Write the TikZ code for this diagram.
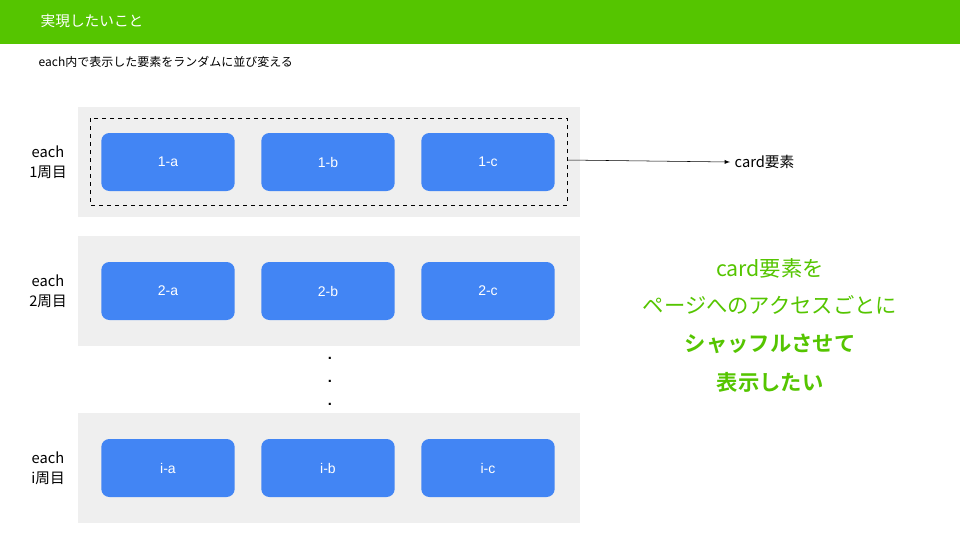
\documentclass[tikz,border=0pt]{standalone}
\usepackage{fontspec}
\setmainfont{Liberation Sans}
\newfontfamily\jp{Noto Sans CJK JP}[BoldFont={* Bold}]
\usetikzlibrary{positioning}
\definecolor{qgreen}{HTML}{55C500}
\definecolor{cardblue}{HTML}{4285F4}
\definecolor{panelgray}{HTML}{EFEFEF}
\tikzset{
  panel/.style={fill=panelgray,draw=none},
  card/.style={fill=cardblue,rounded corners=6pt,minimum width=100pt,minimum height=43.5pt,
    text=white,font=\fontsize{10.5}{12}\selectfont,inner sep=0pt},
  rowlabel/.style={align=center,font=\jp\fontsize{11}{15}\selectfont},
  pitch/.style={text=qgreen,font=\jp\fontsize{16}{20}\selectfont}
}
\begin{document}
\begin{tikzpicture}[x=0.75pt,y=-0.75pt]
	\useasboundingbox (0,0) rectangle (960,540);
	\fill[white] (0,0) rectangle (960,540);
	\fill[qgreen] (0,0) rectangle (960,44);% title bar
	\node[anchor=west,text=white,font=\jp\fontsize{11}{13}\selectfont] (title) at (36,21) {実現したいこと};
	\node[anchor=west,font=\jp\fontsize{9}{11}\selectfont] (sub) at (34,62) {each内で表示した要素をランダムに並び変える};

	\foreach \Row/\Y/\Lab in {1/162/1, 2/291/2, 3/468/i}{
		\fill[panel] (78,\Y-55) rectangle (580,\Y+55);
		\node[rowlabel] (lab\Row) at (48,\Y) {each\\\Lab 周目};
		\foreach \Col/\X/\C in {1/168/a, 2/328/b, 3/488/c}{
			\node[card] (card\Row\Col) at (\X,\Y) {\Lab-\C};
		}
	}
	\draw[dashed,thin] (90,118) rectangle (567,205);
	\coordinate (dashend) at (567,160);
	\node[anchor=west,font=\jp\fontsize{11}{13}\selectfont] (cardlab) at (730,162) {card要素};
	\draw[thin,-latex] (dashend) -- (cardlab.west);

	\foreach \Y in {358,381,404}{\node[font=\bfseries\fontsize{11}{11}\selectfont] at (330,\Y) {.};}

	\node[pitch] (p1) at (770,268) {card要素を};
	\node[pitch] (p2) at (770,305) {ページへのアクセスごとに};
	\node[pitch,font=\jp\bfseries\fontsize{16}{20}\selectfont] (p3) at (770,344) {シャッフルさせて};
	\node[pitch,font=\jp\bfseries\fontsize{16}{20}\selectfont] (p4) at (770,382) {表示したい};
\end{tikzpicture}
\end{document}
